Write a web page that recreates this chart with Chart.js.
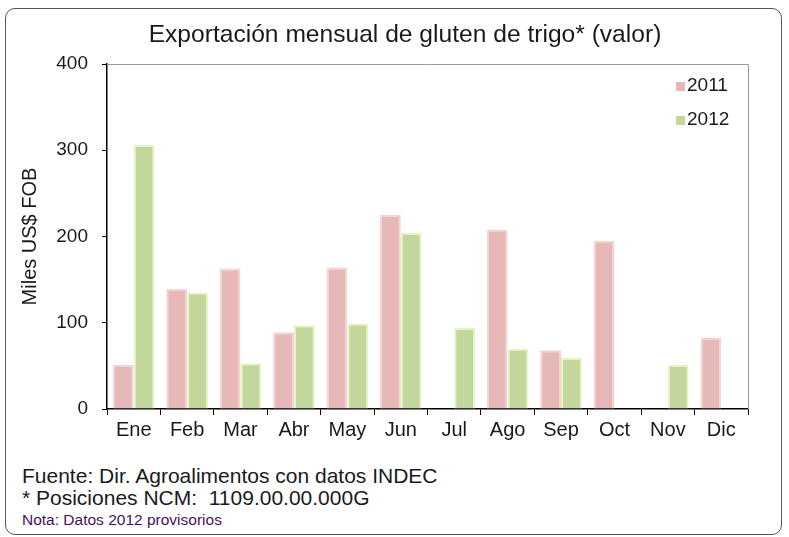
<!DOCTYPE html>
<html>
<head>
<meta charset="utf-8">
<script src="https://cdn.jsdelivr.net/npm/chart.js@4/dist/chart.umd.min.js"></script>
<style>
  body { margin: 0; background: #fff; font-family: "Liberation Sans", Arial, sans-serif; }
  .frame {
    position: absolute; left: 5px; top: 8px; width: 775px; height: 525px;
    border: 1.5px solid #555; border-radius: 10px;
  }
  .wrap { position: absolute; left: 0; top: 0; width: 789px; height: 460px; }
  .title { position: absolute; left: 105px; width: 600px; top: 20px; text-align: center; font-size: 24.6px; color: #1a1a1a; white-space: nowrap; }
  .legend { position: absolute; left: 676px; font-size: 19px; color: #1a1a1a; }
  .legend span.sw { display: inline-block; width: 9px; height: 9px; margin-right: 2px; }
  .note { position: absolute; left: 22px; color: #1a1a1a; white-space: pre; }
</style>
</head>
<body>
<div class="frame"></div>
<div class="wrap"><canvas id="chart" width="789" height="460"></canvas></div>
<div class="title">Exportación mensual de gluten de trigo* (valor)</div>
<div class="legend" style="top:74px"><span class="sw" style="background:#e6b9b8"></span>2011</div>
<div class="legend" style="top:108px"><span class="sw" style="background:#c3d69b"></span>2012</div>
<div class="note" style="top:464px; font-size:21px">Fuente: Dir. Agroalimentos con datos INDEC</div>
<div class="note" style="top:486px; font-size:21px">* Posiciones NCM:  1109.00.00.000G</div>
<div class="note" style="top:511px; font-size:15.5px; color:#4a1060">Nota: Datos 2012 provisorios</div>
<script>
const months = ["Ene", "Feb", "Mar", "Abr", "May", "Jun", "Jul", "Ago", "Sep", "Oct", "Nov", "Dic"];
const values2011 = [51, 139, 163, 89, 164, 225, null, 208, 68, 195, null, 83];
const values2012 = [306, 135, 53, 97, 99, 204, 94, 70, 59, null, 51, null];
const yTicks = [0, 100, 200, 300, 400];

// grey frame on top and right of the plot area
const plotFrame = {
  id: "plotFrame",
  afterDraw(chart) {
    const a = chart.chartArea, ctx = chart.ctx;
    ctx.save();
    ctx.strokeStyle = "#999";
    ctx.lineWidth = 1;
    ctx.beginPath();
    ctx.moveTo(a.left, a.top + 0.5);
    ctx.lineTo(a.right + 0.5, a.top + 0.5);
    ctx.lineTo(a.right + 0.5, a.bottom);
    ctx.stroke();
    ctx.restore();
  }
};

new Chart(document.getElementById("chart"), {
  type: "bar",
  data: {
    labels: months,
    datasets: [
      { label: "2011", data: values2011, backgroundColor: "#e6b9b8", borderColor: "#f2d4d3", borderWidth: 2 },
      { label: "2012", data: values2012, backgroundColor: "#c3d69b", borderColor: "#e5f5c2", borderWidth: 2 }
    ]
  },
  options: {
    responsive: false,
    animation: false,
    layout: { padding: { left: 18, right: 41, top: 64, bottom: 10 } },
    datasets: { bar: { categoryPercentage: 0.78, barPercentage: 1.0 } },
    plugins: {
      legend: { display: false },
      tooltip: { enabled: false },
      title: { display: false }
    },
    scales: {
      x: {
        grid: { drawOnChartArea: false, color: "#000", tickLength: 6, offset: true },
        border: { color: "#000", width: 1.5 },
        ticks: { color: "#1a1a1a", font: { family: "Liberation Sans", size: 20 }, padding: 3 },
        afterFit(scale) { scale.height = 41; }
      },
      y: {
        min: 0,
        max: 400,
        afterBuildTicks(scale) { scale.ticks = yTicks.map(v => ({ value: v })); },
        grid: { drawOnChartArea: false, color: "#000", tickLength: 5 },
        border: { color: "#000", width: 1.5 },
        ticks: { color: "#1a1a1a", font: { family: "Liberation Sans", size: 19 }, padding: 14 },
        title: {
          display: true,
          text: "Miles US$ FOB",
          color: "#1a1a1a",
          font: { family: "Liberation Sans", size: 20 },
          padding: { top: 0, bottom: 8 }
        },
        afterFit(scale) { scale.width = 89; }
      }
    }
  },
  plugins: [plotFrame]
});
</script>
</body>
</html>
